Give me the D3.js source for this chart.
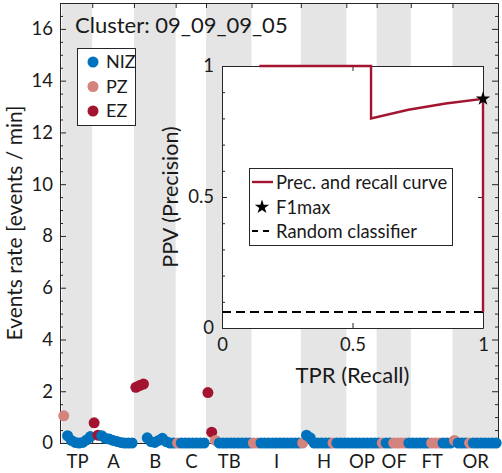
<!DOCTYPE html>
<html>
<head>
<meta charset="utf-8">
<script src="https://cdn.jsdelivr.net/npm/d3@7"></script>
<style>
  html, body { margin: 0; padding: 0; background: #fff; }
  svg { display: block; font-family: Lato, "Open Sans", sans-serif; }
</style>
</head>
<body>
<svg id="chart" width="502" height="473"></svg>
<script>
// ---------------- DATA ----------------
const categories    = ["TP", "A", "B", "C", "TB", "I", "H", "OP", "OF", "FT", "OR"];
const channelCounts = [8, 11, 11, 8, 12, 13, 12, 8, 9, 11, 12];
// zone of each channel, one string per category (N = NIZ, P = PZ, E = EZ)
const zoneCodes = [
  "PNNNNNNN",
  "EENNNNNNNNN",
  "EEENNNNNNNN",
  "PNNNNNNN",
  "EEPNNNNNNNNN",
  "PPNNNNNNNNNNN",
  "PNNNNNNNPNNN",
  "NNNNNNNN",
  "NPNNPPPPN",
  "NNNNNPPPNNN",
  "PNNNPNNNNNNN"
];
// event rate [events / min] of each channel
const rates = [
  1.05, 0.28, 0.10, 0.02, 0.00, 0.02, 0.12, 0.25,
  0.78, 0.30, 0.28, 0.18, 0.15, 0.10, 0.06, 0.02, 0.00, 0.00, 0.00,
  2.15, 2.22, 2.28, 0.20, 0.05, 0.02, 0.10, 0.18, 0.05, 0.00, 0.00,
  0, 0, 0, 0, 0, 0, 0, 0,
  1.95, 0.42, 0.10, 0, 0, 0, 0, 0, 0, 0, 0, 0,
  0, 0, 0, 0, 0, 0, 0, 0, 0, 0, 0, 0, 0,
  0.00, 0.30, 0.20, 0, 0, 0, 0, 0, 0, 0, 0, 0,
  0, 0, 0, 0, 0, 0, 0, 0,
  0, 0, 0, 0, 0, 0, 0, 0, 0,
  0, 0, 0, 0, 0, 0, 0, 0, 0, 0, 0,
  0.10, 0, 0, 0, 0, 0, 0, 0, 0, 0, 0, 0
];
const zoneNames = ["NIZ", "PZ", "EZ"];
const yTicks = [0, 2, 4, 6, 8, 10, 12, 14, 16];

// precision-recall inset
const prRecall    = [0.143, 0.286, 0.429, 0.571, 0.571, 0.714, 0.857, 1.000, 1.000];
const prPrecision = [1.000, 1.000, 1.000, 1.000, 0.800, 0.833, 0.857, 0.875, 0.061];
const f1max = {recall: 1.0, precision: 0.875};
const randomLevel = 0.061;
const insetTicks = [0, 0.5, 1];
const insetTickLabels = ["0", "0.5", "1"];

// ---------------- STYLE ----------------
const zoneColor = {NIZ: "#0072BD", PZ: "#D4837F", EZ: "#A2142F"};
const codeToZone = {N: "NIZ", P: "PZ", E: "EZ"};
const axisColor = "#262626";
const bandColor = "#E5E5E5";
const textColor = "#1a1a1a";

const svg = d3.select("#chart");

// build channel list
const channels = [];
let idx = 0;
const bounds = [];
categories.forEach((cat, k) => {
  const start = idx;
  for (let j = 0; j < channelCounts[k]; j++) {
    idx++;
    channels.push({i: idx, cat, zone: codeToZone[zoneCodes[k][j]], rate: rates[idx - 1]});
  }
  bounds.push({cat, k, lo: start + 0.5, hi: idx + 0.5});
});
const N = idx;

const x = d3.scaleLinear().domain([0, N + 0.5]).range([60, 498]);
const y = d3.scaleLinear().domain([0, 17]).range([443, 3]);

// bands
svg.append("g").selectAll("rect").data(bounds.filter(b => b.k % 2 === 0)).join("rect")
  .attr("x", b => x(b.lo)).attr("width", b => x(b.hi) - x(b.lo))
  .attr("y", y(17)).attr("height", y(0) - y(17))
  .attr("fill", bandColor);

// axes
function styleAxis(g) {
  g.selectAll(".domain").attr("stroke", axisColor);
  g.selectAll(".tick line").attr("stroke", axisColor);
  g.selectAll(".tick text").attr("fill", textColor);
}
const minorY = d3.range(0, 17.01, 0.5).filter(v => v % 2 !== 0);
svg.append("g").attr("transform", `translate(${x(0)},0)`)
  .call(d3.axisLeft(y).tickValues(minorY).tickSizeInner(-3).tickSizeOuter(0).tickFormat(""))
  .call(styleAxis);
svg.append("g").attr("transform", `translate(${x(0)},0)`)
  .call(d3.axisLeft(y).tickValues(yTicks).tickSizeInner(-6).tickSizeOuter(0).tickPadding(7))
  .call(styleAxis)
  .call(g => g.selectAll(".tick text").attr("font-size", 18.5).attr("font-family", "Lato"));
svg.append("g").attr("transform", `translate(${x(N + 0.5)},0)`)
  .call(d3.axisRight(y).tickValues(minorY).tickSizeInner(-3).tickSizeOuter(0).tickFormat(""))
  .call(styleAxis);
svg.append("g").attr("transform", `translate(${x(N + 0.5)},0)`)
  .call(d3.axisRight(y).tickValues(yTicks).tickSizeInner(-6).tickSizeOuter(0).tickFormat(""))
  .call(styleAxis);

const boundaryTicks = bounds.slice(0, -1).map(b => b.hi);
svg.append("g").attr("transform", `translate(0,${y(17)})`)
  .call(d3.axisTop(x).tickValues(boundaryTicks).tickSizeInner(-5).tickSizeOuter(0).tickFormat(""))
  .call(styleAxis);
svg.append("g").attr("transform", `translate(0,${y(0)})`)
  .call(d3.axisBottom(x).tickValues(boundaryTicks).tickSizeInner(-5).tickSizeOuter(0).tickFormat(""))
  .call(styleAxis);
const centers = bounds.map(b => (b.lo + b.hi) / 2);
svg.append("g").attr("transform", `translate(0,${y(0)})`)
  .call(d3.axisBottom(x).tickValues(centers).tickSize(0).tickPadding(12)
    .tickFormat((d, i) => categories[i]))
  .call(styleAxis)
  .call(g => g.select(".domain").remove())
  .call(g => g.selectAll(".tick text").attr("font-size", 18.5).attr("font-family", "Lato"));

// y label
svg.append("text")
  .attr("transform", `translate(22,${(y(0) + y(17)) / 2}) rotate(-90)`)
  .attr("text-anchor", "middle").attr("font-size", 21).attr("fill", textColor)
  .text("Events rate [events / min]");

// title
svg.append("text").attr("x", 75).attr("y", 33).attr("font-size", 22).attr("fill", textColor)
  .text("Cluster: 09_09_09_05");

// dots (channel order)
svg.append("g").selectAll("circle").data(channels).join("circle")
  .attr("cx", d => x(d.i)).attr("cy", d => y(d.rate)).attr("r", 5.5)
  .attr("fill", d => zoneColor[d.zone]);

// main legend
const lg = svg.append("g");
lg.append("rect").attr("x", 77.5).attr("y", 48.5).attr("width", 58).attr("height", 77)
  .attr("fill", "#fff").attr("stroke", axisColor);
zoneNames.forEach((z, k) => {
  const cy = 62 + k * 24.5;
  lg.append("circle").attr("cx", 93).attr("cy", cy).attr("r", 5.5).attr("fill", zoneColor[z]);
  lg.append("text").attr("x", 106).attr("y", cy).attr("dy", "0.36em").attr("font-size", 18)
    .attr("fill", textColor).text(z);
});

// ---------------- INSET ----------------
const ix = d3.scaleLinear().domain([0, 1]).range([222, 483]);
const iy = d3.scaleLinear().domain([0, 1]).range([328, 66]);
const ins = svg.append("g");
ins.append("rect").attr("x", ix(0)).attr("y", iy(1)).attr("width", ix(1) - ix(0))
  .attr("height", iy(0) - iy(1)).attr("fill", "#fff");
const minorI = d3.range(0.1, 0.95, 0.1).filter(v => Math.abs(v - 0.5) > 1e-6);
ins.append("g").attr("transform", `translate(${ix(0)},0)`)
  .call(d3.axisLeft(iy).tickValues(minorI).tickSizeInner(-3).tickSizeOuter(0).tickFormat(""))
  .call(styleAxis);
ins.append("g").attr("transform", `translate(${ix(0)},0)`)
  .call(d3.axisLeft(iy).tickValues(insetTicks).tickSizeInner(-5).tickSizeOuter(0).tickPadding(8)
    .tickFormat((d, i) => insetTickLabels[i]))
  .call(styleAxis)
  .call(g => g.selectAll(".tick text").attr("font-size", 18.5).attr("font-family", "Lato"));
ins.append("g").attr("transform", `translate(${ix(1)},0)`)
  .call(d3.axisRight(iy).tickValues(insetTicks).tickSizeInner(-5).tickSizeOuter(0).tickFormat(""))
  .call(styleAxis);
ins.append("g").attr("transform", `translate(0,${iy(0)})`)
  .call(d3.axisBottom(ix).tickValues(insetTicks).tickSizeInner(-5).tickSizeOuter(0).tickPadding(10)
    .tickFormat((d, i) => insetTickLabels[i]))
  .call(styleAxis)
  .call(g => g.selectAll(".tick text").attr("font-size", 18.5).attr("font-family", "Lato"));
ins.append("g").attr("transform", `translate(0,${iy(1)})`)
  .call(d3.axisTop(ix).tickValues(insetTicks).tickSizeInner(-5).tickSizeOuter(0).tickFormat(""))
  .call(styleAxis);

ins.append("text").attr("x", ix(0.5)).attr("y", 383).attr("text-anchor", "middle")
  .attr("font-size", 22).attr("fill", textColor).text("TPR (Recall)");
ins.append("text").attr("transform", `translate(178,${iy(0.5)}) rotate(-90)`)
  .attr("text-anchor", "middle").attr("font-size", 21.5).attr("fill", textColor).text("PPV (Precision)");

// random classifier
ins.append("line").attr("x1", ix(0)).attr("x2", ix(1)).attr("y1", iy(randomLevel)).attr("y2", iy(randomLevel))
  .attr("stroke", "#000").attr("stroke-width", 2).attr("stroke-dasharray", "9,5");
// PR curve
const prData = prRecall.map((r, i) => ({r, p: prPrecision[i]}));
ins.append("path").datum(prData)
  .attr("d", d3.line().x(d => ix(d.r)).y(d => iy(d.p)))
  .attr("fill", "none").attr("stroke", zoneColor.EZ).attr("stroke-width", 2.4);
ins.append("path").attr("d", d3.symbol(d3.symbolStar, 64)())
  .attr("transform", `translate(${ix(f1max.recall)},${iy(f1max.precision)})`).attr("fill", "#000");

// inset legend
const il = ins.append("g");
il.append("rect").attr("x", 249.5).attr("y", 168.5).attr("width", 203).attr("height", 77)
  .attr("fill", "#fff").attr("stroke", axisColor);
il.append("line").attr("x1", 252).attr("x2", 273).attr("y1", 182).attr("y2", 182)
  .attr("stroke", zoneColor.EZ).attr("stroke-width", 2.4);
il.append("text").attr("x", 276).attr("y", 182).attr("dy", "0.36em").attr("font-size", 18.4)
  .attr("fill", textColor).text("Prec. and recall curve");
il.append("path").attr("d", d3.symbol(d3.symbolStar, 64)()).attr("transform", "translate(262,207)").attr("fill", "#000");
il.append("text").attr("x", 276).attr("y", 207).attr("dy", "0.36em").attr("font-size", 18.4)
  .attr("fill", textColor).text("F1max");
il.append("line").attr("x1", 252).attr("x2", 273).attr("y1", 231).attr("y2", 231)
  .attr("stroke", "#000").attr("stroke-width", 2).attr("stroke-dasharray", "6,5");
il.append("text").attr("x", 276).attr("y", 231).attr("dy", "0.36em").attr("font-size", 18.4)
  .attr("fill", textColor).text("Random classifier");
</script>
</body>
</html>
